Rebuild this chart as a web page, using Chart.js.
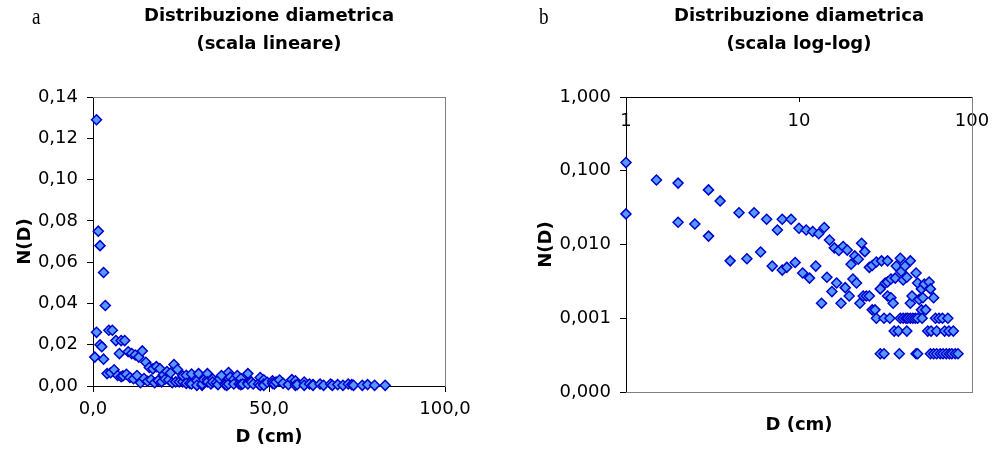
<!DOCTYPE html>
<html>
<head>
<meta charset="utf-8">
<script src="https://cdn.jsdelivr.net/npm/chart.js@4.4.1/dist/chart.umd.min.js"></script>
<style>
  html, body { margin: 0; padding: 0; background: #fff; }
  #wrap { position: relative; width: 993px; height: 456px; overflow: hidden; }
  canvas { position: absolute; top: 0; }
  .lab { position: absolute; font-family: 'Liberation Serif', serif; font-size: 24px; color: #000; transform: scaleX(0.8); transform-origin: left top; line-height: 1; }
</style>
</head>
<body>
<div id="wrap">
  <canvas id="lin" width="496" height="456" style="left:0"></canvas>
  <canvas id="log" width="497" height="456" style="left:496px"></canvas>
  <div class="lab" style="left:32px; top:4px;">a</div>
  <div class="lab" style="left:539px; top:4px;">b</div>
</div>
<script>
// ---- data ----
const diametri = [
  0.5, 1, 1, 1.5, 2, 2, 2.5, 3, 3, 3.5,
  4, 4.5, 5, 5.5, 6, 6.5, 7, 7.5, 8, 8,
  8.5, 9, 9.5, 10, 10.5, 11, 11.5, 12, 12.5, 13,
  13.5, 14, 14.5, 15, 15.5, 16, 16.5, 17, 17.5, 18,
  18.5, 19, 19.5, 20, 20.5, 21, 21.5, 22, 22.5, 23,
  23.5, 24, 24.5, 25.5, 25.5, 26.5, 26.5, 27.5, 28, 28,
  29.5, 29.5, 30, 31, 31, 31.5, 32.5, 32.5, 32.5, 33.5,
  34, 34, 35, 35.5, 36, 36.5, 37.5, 38, 38.5, 38.5,
  39, 40, 40, 41, 41.5, 42, 42, 42.5, 44, 44,
  44, 45, 45.5, 47, 47.5, 47.5, 48.5, 48.5, 48.5, 49.5,
  51, 51, 51.5, 52, 53, 54, 55.5, 56.5, 57.5, 57.5,
  58, 60, 60, 61.5, 62.5, 62.5, 64.5, 65.5, 67.5, 68,
  69.5, 71, 72.5, 73.5, 74, 76.5, 78, 80, 83
];
const densita = [
  0.014, 0.129, 0.026, 0.075, 0.068, 0.020, 0.019, 0.055, 0.013, 0.039,
  0.006, 0.027, 0.0064, 0.027, 0.0079, 0.022, 0.0051, 0.0157, 0.0045, 0.022,
  0.0049, 0.022, 0.0057, 0.0166, 0.0041, 0.0157, 0.0035, 0.015, 0.0051, 0.014,
  0.0016, 0.017, 0.0036, 0.0115, 0.0023, 0.009, 0.0030, 0.0083, 0.0016, 0.0094,
  0.0026, 0.0084, 0.0020, 0.0054, 0.0034, 0.0070, 0.0030, 0.0063, 0.0016, 0.0104,
  0.0020, 0.0080, 0.0020, 0.0020, 0.0049, 0.0052, 0.0013, 0.0013, 0.0058, 0.0010,
  0.0025, 0.00033, 0.0060, 0.00033, 0.0010, 0.0030, 0.0031, 0.0060, 0.0020, 0.0010,
  0.0034, 0.0019, 0.0016, 0.00067, 0.0035, 0.0051, 0.00067, 0.00033, 0.0065, 0.0010,
  0.0043, 0.0033, 0.0010, 0.0051, 0.0010, 0.0036, 0.00067, 0.0010, 0.0060, 0.0016,
  0.0010, 0.0020, 0.0010, 0.0010, 0.0041, 0.00033, 0.0030, 0.0010, 0.00033, 0.0018,
  0.0025, 0.0013, 0.0010, 0.0019, 0.0029, 0.0013, 0.00067, 0.0031, 0.0025, 0.00033,
  0.00067, 0.0019, 0.00033, 0.0010, 0.00067, 0.00033, 0.0010, 0.00033, 0.0010, 0.00033,
  0.00067, 0.00033, 0.0010, 0.00067, 0.00033, 0.00033, 0.00067, 0.00033, 0.00033
];
const titoloLin = ['Distribuzione diametrica', '(scala lineare)'];
const titoloLog = ['Distribuzione diametrica', '(scala log-log)'];
const ticksLinY = [0, 0.02, 0.04, 0.06, 0.08, 0.10, 0.12, 0.14];
const ticksLinX = [0, 50, 100];
const ticksLogX = [1, 10, 100];
const ticksLogY = [0.0001, 0.001, 0.01, 0.1, 1];
const titoloAsseX = 'D (cm)';
const titoloAsseY = 'N(D)';

// ---- styling ----
const FONT = "'DejaVu Sans', Verdana, sans-serif";
Chart.defaults.font.family = FONT;
Chart.defaults.font.size = 18;
Chart.defaults.color = '#000';
const GRAY = '#808080';
const tickFont = { family: FONT, size: 18 };
const boldFont = { family: FONT, size: 18, weight: 'bold' };
const comma = (v, d) => Number(v).toFixed(d).replace('.', ',');

const punti = diametri.map((d, i) => ({ x: d, y: densita[i] }));
const puntiLog = punti.filter(p => p.x >= 1);

const dsStyle = {
  pointStyle: 'rectRot',
  pointRadius: 5,
  pointHoverRadius: 5,
  pointBackgroundColor: '#5599ff',
  pointBorderColor: '#0000cc',
  pointBorderWidth: 1.5,
  showLine: false,
  clip: false
};

const titlePlugin = (text) => ({
  display: true,
  text: text,
  fullSize: false,
  color: '#000',
  font: { family: FONT, size: 18, weight: 'bold', lineHeight: 28 / 18 },
  padding: { top: 2, bottom: 39 }
});

const fixedTicks = (vals) => (s) => { s.ticks = vals.map(v => ({ value: v })); };
const tickGrid = (len) => ({ display: true, drawOnChartArea: false, tickLength: len, color: '#000', lineWidth: 1 });
const noPad = (s) => { s.paddingLeft = 0; s.paddingRight = 0; s.paddingTop = 0; s.paddingBottom = 0; };
const frameAxis = (pos, extra) => Object.assign({
  position: pos,
  display: true,
  ticks: { display: false },
  grid: { display: false },
  border: { display: true, color: GRAY, width: 1 }
}, extra || {});

new Chart(document.getElementById('lin'), {
  type: 'scatter',
  data: { datasets: [Object.assign({ data: punti }, dsStyle)] },
  options: {
    responsive: false,
    animation: false,
    devicePixelRatio: 1,
    layout: { padding: { left: 11, right: 51, top: 0, bottom: 4 } },
    plugins: { legend: { display: false }, tooltip: { enabled: false }, title: titlePlugin(titoloLin) },
    events: [],
    scales: {
      x: {
        type: 'linear', position: 'bottom', min: 0, max: 100,
        afterBuildTicks: fixedTicks(ticksLinX),
        ticks: { padding: 7, font: tickFont, maxRotation: 0, autoSkip: false, callback: v => comma(v, 1) },
        grid: tickGrid(6),
        border: { display: true, color: '#000', width: 1 },
        title: { display: true, text: titoloAsseX, font: boldFont, padding: 4 },
        afterFit: s => { s.height = 66; noPad(s); }
      },
      y: {
        type: 'linear', position: 'left', min: 0, max: 0.14,
        afterBuildTicks: fixedTicks(ticksLinY),
        ticks: { padding: 9, font: tickFont, autoSkip: false, callback: v => comma(v, 2) },
        grid: tickGrid(6),
        border: { display: true, color: '#000', width: 1 },
        title: { display: true, text: titoloAsseY, font: boldFont, padding: 4 },
        afterFit: s => { s.width = 82; noPad(s); }
      },
      xTop: frameAxis('top', { type: 'linear', min: 0, max: 100, afterFit: s => { s.height = 0; noPad(s); } }),
      yRight: frameAxis('right', { type: 'linear', min: 0, max: 0.14, afterFit: s => { s.width = 0; noPad(s); } })
    }
  }
});

new Chart(document.getElementById('log'), {
  type: 'scatter',
  data: { datasets: [Object.assign({ data: puntiLog }, dsStyle)] },
  options: {
    responsive: false,
    animation: false,
    devicePixelRatio: 1,
    layout: { padding: { left: 36, right: 21, top: 0, bottom: 16 } },
    plugins: { legend: { display: false }, tooltip: { enabled: false }, title: titlePlugin(titoloLog) },
    events: [],
    scales: {
      x: {
        type: 'logarithmic', position: 'top', min: 1, max: 100,
        afterBuildTicks: fixedTicks(ticksLogX),
        ticks: { mirror: true, padding: 14, font: tickFont, maxRotation: 0, autoSkip: false, callback: v => String(v) },
        grid: tickGrid(-5),
        border: { display: true, color: '#000', width: 1 },
        afterFit: s => { s.height = 0; noPad(s); }
      },
      y: {
        type: 'logarithmic', position: 'left', min: 0.0001, max: 1,
        afterBuildTicks: fixedTicks(ticksLogY),
        ticks: { padding: 9, font: tickFont, autoSkip: false, callback: v => comma(v, 3) },
        grid: tickGrid(6),
        border: { display: true, color: '#000', width: 1 },
        title: { display: true, text: titoloAsseY, font: boldFont, padding: 4 },
        afterFit: s => { s.width = 94; noPad(s); }
      },
      xBottom: frameAxis('bottom', {
        type: 'linear', min: 0, max: 1,
        title: { display: true, text: titoloAsseX, font: boldFont, padding: 4 },
        afterFit: s => { s.height = 48; noPad(s); }
      }),
      yRight: frameAxis('right', { type: 'linear', min: 0, max: 1, afterFit: s => { s.width = 0; noPad(s); } })
    }
  }
});
</script>
</body>
</html>
